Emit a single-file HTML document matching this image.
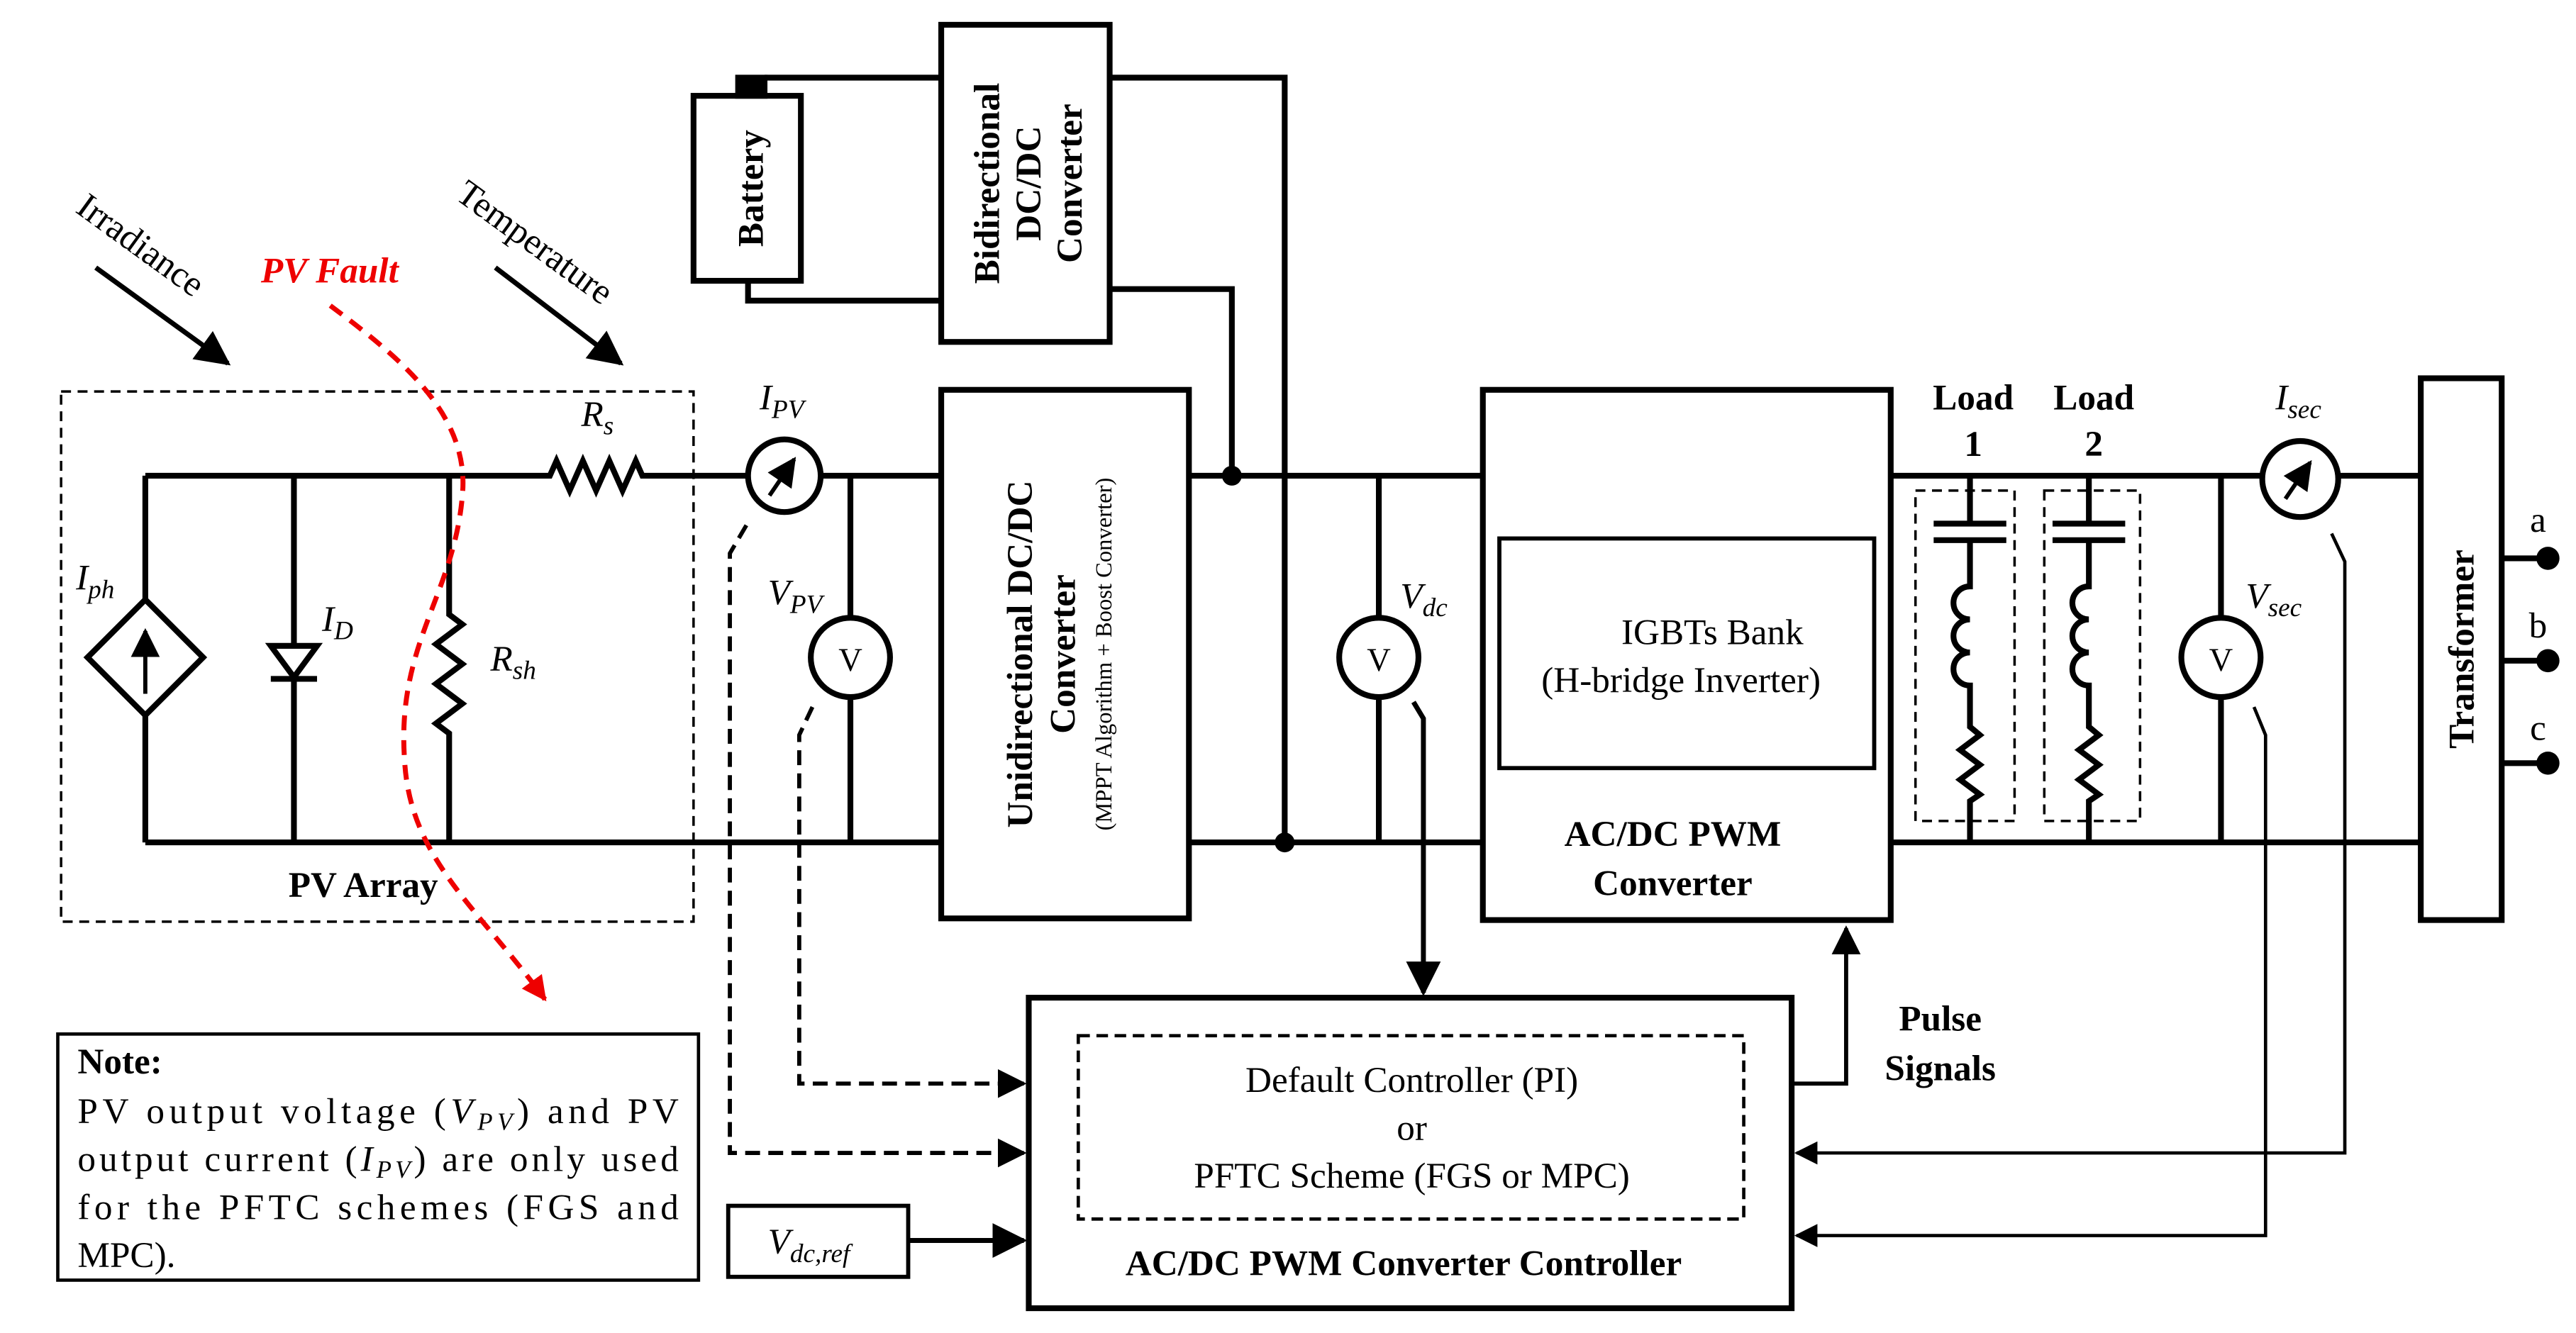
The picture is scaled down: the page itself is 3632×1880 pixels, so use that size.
<!DOCTYPE html>
<html><head><meta charset="utf-8"><style>html,body{margin:0;padding:0;background:#fff}svg{display:block}</style></head><body>
<svg width="3632" height="1880" viewBox="0 0 1560 807" preserveAspectRatio="none" xmlns="http://www.w3.org/2000/svg" font-family="Liberation Serif, serif">
<defs>
<marker id="ah" viewBox="0 0 10 10" refX="9" refY="5" markerWidth="7" markerHeight="7" orient="auto" markerUnits="strokeWidth"><path d="M0,0L10,5L0,10z" fill="#000"/></marker>
<marker id="ahs" viewBox="0 0 10 10" refX="9" refY="5" markerWidth="7" markerHeight="7" orient="auto" markerUnits="strokeWidth"><path d="M0,0L10,5L0,10z" fill="#000"/></marker>
<marker id="ahr" viewBox="0 0 10 10" refX="9" refY="5" markerWidth="5" markerHeight="5" orient="auto" markerUnits="strokeWidth"><path d="M0,0L10,5L0,10z" fill="#e00"/></marker>
</defs>
<g fill="none" stroke="#000" stroke-width="3.5">
<rect x="37" y="237" width="383" height="321" stroke-width="1.5" stroke-dasharray="6,4"/>
<path d="M88,288H333l4,-9l8,18l8,-18l8,18l8,-18l8,18l8,-18l4,9H453"/>
<path d="M497,288H570M720,288H898M1145,288H1370M1416,288H1466"/>
<path d="M88,510H570M720,510H898M1145,510H1466"/>
<path d="M88,288V363M88,433V510"/>
<path d="M88,363L123,398L88,433L53,398Z"/>
<path d="M178,288V510"/>
<path d="M164,391H192L178,410Z" fill="#fff"/>
<path d="M164,411H192"/>
<path d="M272,288V372l8,6l-16,12l16,12l-16,12l16,12l-16,12l8,6V510"/>
<circle cx="475" cy="288" r="22"/>
<path d="M515,288V374M515,422V510"/>
<circle cx="515" cy="398" r="24"/>
<rect x="570" y="236" width="150" height="320"/>
<rect x="420" y="58" width="65" height="112"/>
<rect x="447" y="47" width="16" height="11" fill="#000"/>
<rect x="570" y="15" width="102" height="192"/>
<path d="M463,47H570M453,170V182H570"/>
<path d="M672,47H778V510M672,175H746V288"/>
<path d="M835,288V374M835,422V510"/>
<circle cx="835" cy="398" r="24"/>
<rect x="898" y="236" width="247" height="321"/>
<rect x="908" y="326" width="227" height="139" stroke-width="2.5"/>
<rect x="1160" y="297" width="60" height="200" stroke-width="1.5" stroke-dasharray="6,4"/>
<rect x="1238" y="297" width="58" height="200" stroke-width="1.5" stroke-dasharray="6,4"/>
<path d="M1193,288V317M1171,317H1215M1171,327H1215M1193,327V355a9,9 0 0,0 0,20a9,9 0 0,0 0,20a9,9 0 0,0 0,20V440l6,5l-12,9l12,9l-12,9l12,9l-6,4V510"/>
<path d="M1265,288V317M1243,317H1287M1243,327H1287M1265,327V355a9,9 0 0,0 0,20a9,9 0 0,0 0,20a9,9 0 0,0 0,20V440l6,5l-12,9l12,9l-12,9l12,9l-6,4V510"/>
<path d="M1345,288V374M1345,422V510"/>
<circle cx="1345" cy="398" r="24"/>
<circle cx="1393" cy="290" r="23"/>
<rect x="1466" y="229" width="49" height="328"/>
<path d="M1515,338H1543M1515,400H1543M1515,462H1543"/>
<rect x="623" y="604" width="462" height="188"/>
<rect x="653" y="627" width="403" height="111" stroke-width="2" stroke-dasharray="7,4"/>
<rect x="441" y="730" width="109" height="43" stroke-width="2.5"/>
<rect x="35" y="626" width="388" height="149" stroke-width="2"/>
</g>
<g stroke="#000" stroke-width="3" fill="#000">
<path d="M88,420V382" marker-end="url(#ahs)" stroke-width="2.5"/>
<path d="M466,300L481,278" marker-end="url(#ahs)" stroke-width="2.5"/>
<path d="M1384,302L1399,280" marker-end="url(#ahs)" stroke-width="2.5"/>
</g>
<circle cx="746" cy="288" r="6"/>
<circle cx="778" cy="510" r="6"/>
<circle cx="1543" cy="338" r="7"/><circle cx="1543" cy="400" r="7"/><circle cx="1543" cy="462" r="7"/>
<g stroke="#000" stroke-width="3" fill="none">
<path d="M58,162L138,220" marker-end="url(#ahs)"/>
<path d="M300,162L376,220" marker-end="url(#ahs)"/>
<path d="M856,425L862,435V601" marker-end="url(#ahs)"/>
<path d="M1085,656H1118V562" marker-end="url(#ahs)" stroke-width="2.5"/>
<path d="M550,751H620" marker-end="url(#ahs)"/>
</g>
<g stroke="#000" stroke-width="2.5" fill="none" stroke-dasharray="9,5">
<path d="M452,318L442,335V698H620" marker-end="url(#ahs)"/>
<path d="M492,428L484,445V656H620" marker-end="url(#ahs)"/>
</g>
<g stroke="#000" stroke-width="2" fill="none">
<path d="M1412,323L1420,340V698H1088" marker-end="url(#ah)"/>
<path d="M1365,428L1372,445V748H1088" marker-end="url(#ah)"/>
</g>
<path d="M200,185C240,215 285,250 280,300C275,360 240,390 245,460C248,520 290,550 330,605" fill="none" stroke="#e00" stroke-width="3" stroke-dasharray="9,6" marker-end="url(#ahr)"/>
<g font-size="22" fill="#000">
<text x="45" y="128" transform="rotate(36 45 128)">Irradiance</text>
<text x="275" y="120" transform="rotate(36 275 120)">Temperature</text>
<text x="158" y="171" fill="#e00" font-weight="bold" font-style="italic">PV Fault</text>
<text x="46" y="357" font-style="italic">I<tspan font-size="16" dy="5">ph</tspan></text>
<text x="195" y="382" font-style="italic">I<tspan font-size="16" dy="5">D</tspan></text>
<text x="297" y="406" font-style="italic">R<tspan font-size="16" dy="5">sh</tspan></text>
<text x="352" y="258" font-style="italic">R<tspan font-size="16" dy="5">s</tspan></text>
<text x="460" y="248" font-style="italic">I<tspan font-size="16" dy="5">PV</tspan></text>
<text x="465" y="366" font-style="italic">V<tspan font-size="16" dy="5">PV</tspan></text>
<text x="848" y="368" font-style="italic">V<tspan font-size="16" dy="5">dc</tspan></text>
<text x="1360" y="368" font-style="italic">V<tspan font-size="16" dy="5">sec</tspan></text>
<text x="1378" y="248" font-style="italic">I<tspan font-size="16" dy="5">sec</tspan></text>
<text x="465" y="759" font-style="italic">V<tspan font-size="16" dy="5">dc,ref</tspan></text>
<text x="515" y="406" text-anchor="middle" font-size="20">V</text>
<text x="835" y="406" text-anchor="middle" font-size="20">V</text>
<text x="1345" y="406" text-anchor="middle" font-size="20">V</text>
<text x="220" y="543" text-anchor="middle" font-weight="bold">PV Array</text>
<text x="1195" y="248" text-anchor="middle" font-weight="bold">Load</text>
<text x="1195" y="276" text-anchor="middle" font-weight="bold">1</text>
<text x="1268" y="248" text-anchor="middle" font-weight="bold">Load</text>
<text x="1268" y="276" text-anchor="middle" font-weight="bold">2</text>
<text x="1537" y="322" text-anchor="middle">a</text>
<text x="1537" y="386" text-anchor="middle">b</text>
<text x="1537" y="448" text-anchor="middle">c</text>
<text x="1037" y="390" text-anchor="middle">IGBTs Bank</text>
<text x="1018" y="419" text-anchor="middle">(H-bridge Inverter)</text>
<text x="1013" y="512" text-anchor="middle" font-weight="bold">AC/DC PWM</text>
<text x="1013" y="542" text-anchor="middle" font-weight="bold">Converter</text>
<text x="855" y="661" text-anchor="middle">Default Controller (PI)</text>
<text x="855" y="690" text-anchor="middle">or</text>
<text x="855" y="719" text-anchor="middle">PFTC Scheme (FGS or MPC)</text>
<text x="850" y="772" text-anchor="middle" font-weight="bold">AC/DC PWM Converter Controller</text>
<text x="1175" y="624" text-anchor="middle" font-weight="bold">Pulse</text>
<text x="1175" y="654" text-anchor="middle" font-weight="bold">Signals</text>
<g transform="translate(462,114) rotate(-90)"><text text-anchor="middle" font-weight="bold">Battery</text></g>
<g transform="translate(621,111) rotate(-90)"><text text-anchor="middle" font-weight="bold" y="-16">Bidirectional</text><text text-anchor="middle" font-weight="bold" y="9">DC/DC</text><text text-anchor="middle" font-weight="bold" y="34">Converter</text></g>
<g transform="translate(645,396) rotate(-90)"><text text-anchor="middle" font-weight="bold" y="-20">Unidirectional DC/DC</text><text text-anchor="middle" font-weight="bold" y="6">Converter</text><text text-anchor="middle" font-size="14" y="28">(MPPT Algorithm + Boost Converter)</text></g>
<g transform="translate(1498,393) rotate(-90)"><text text-anchor="middle" font-weight="bold">Transformer</text></g>
<text x="47" y="650" font-weight="bold">Note:</text>
<text x="47" y="680" textLength="364" lengthAdjust="spacing">PV output voltage (<tspan font-style="italic">V<tspan font-size="15" dy="4">PV</tspan></tspan><tspan dy="-4">) and PV</tspan></text>
<text x="47" y="709" textLength="364" lengthAdjust="spacing">output current (<tspan font-style="italic">I<tspan font-size="15" dy="4">PV</tspan></tspan><tspan dy="-4">) are only used</tspan></text>
<text x="47" y="738" textLength="364" lengthAdjust="spacing">for the PFTC schemes (FGS and</text>
<text x="47" y="767">MPC).</text>
</g>
</svg>
</body></html>
